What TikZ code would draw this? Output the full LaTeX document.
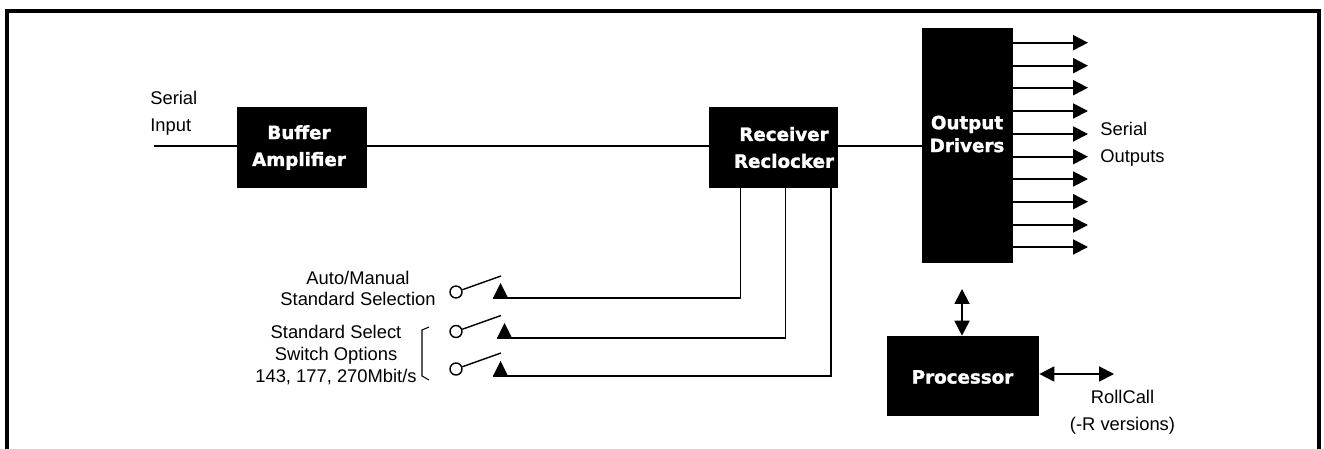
\documentclass[tikz,border=0pt]{standalone}
\usepackage{fontspec}
\setmainfont{Liberation Sans}
\newfontfamily\blockfont{DejaVu Sans}[BoldFont={DejaVu Sans Bold},BoldFeatures={FakeBold=1.6}]
\usetikzlibrary{arrows.meta}

\tikzset{
  block/.style={fill=black, inner sep=0pt},
  blocktext/.style={inner sep=0pt, text=white, align=center,
    font=\blockfont\bfseries\fontsize{10.4}{15.3}\selectfont},
  caption/.style={inner sep=0pt, align=center,
    font=\fontsize{10.45}{15.3}\selectfont},
  tight/.style={font=\fontsize{10.45}{12.4}\selectfont},
  sig/.style={line width=1.1pt},
  arr/.style={sig, -{Triangle[length=8.5pt,width=8.5pt]}},
  biarr/.style={sig, {Triangle[length=8.5pt,width=8.5pt]}-{Triangle[length=8.5pt,width=8.5pt]}},
  contact/.style={circle, draw, line width=0.8pt, minimum size=0.24cm, inner sep=0pt},
}

\begin{document}
\begin{tikzpicture}[x=0.02cm, y=-0.02cm]
  \useasboundingbox (0,0) rectangle (1324,449);
  \draw[line width=2.3pt] (7,449) -- (7,11) -- (1319,11) -- (1319,449);

  \node[block, minimum width=2.6cm, minimum height=1.62cm] (buffer) at (302,147.5) {};
  \node[block, minimum width=2.58cm, minimum height=1.62cm] (reclocker) at (773.5,147.5) {};
  \node[block, minimum width=1.82cm, minimum height=4.7cm] (drivers) at (967.5,145.5) {};
  \node[block, minimum width=3.04cm, minimum height=1.6cm] (processor) at (963,376) {};

  \node[blocktext] (buffertext) at (299,147.5) {Buffer\\Amplifier};
  \node[blocktext] (reclockertext) at (784,147.5) {Receiver\\Reclocker};
  \node[blocktext, font=\blockfont\bfseries\fontsize{10.4}{13}\selectfont] (driverstext) at (967,134) {Output\\Drivers};
  \node[blocktext] (processortext) at (962.5,377) {Processor};

  % serial path
  \coordinate (input) at (154,146);
  \draw[sig] (input) -- (input -| buffer.west);
  \draw[sig] (input -| buffer.east) -- (input -| reclocker.west);
  \draw[sig] (input -| reclocker.east) -- (input -| drivers.west);

  \node[caption, align=left, anchor=west] (inlabel) at (150,113) {Serial\\Input};
  \node[caption, align=left, anchor=west] (outlabel) at (1100,144.5) {Serial\\Outputs};

  \foreach \y in {42.7, 65.7, 87.7, 111, 134, 156.7, 179, 201.7, 225, 247} {
      \coordinate (out) at (1088,\y);
      \draw[arr] (out -| drivers.east) -- (out);
  }

  % processor links
  \coordinate (drvlink) at (962,289);
  \coordinate (rollcall) at (1114,374);
  \draw[biarr] (drvlink) -- (drvlink |- processor.north);
  \draw[biarr] (rollcall -| processor.east) -- (rollcall);
  \node[caption] (rclabel) at (1122.5,412.5) {RollCall\\(-R versions)};

  % switches
  \foreach \n/\y/\t/\up/\tap in {1/292/493/298/740.5, 2/331.5/497/338/785.5, 3/369/493/376/831} {
      \node[contact] (sw\n) at (456,\y) {};
      \coordinate (lever\n) at (501,\y-16);
      \draw[line width=0.8pt] (sw\n) -- (lever\n);
      \coordinate (pin\n) at (\t,\up);
      \coordinate (tap\n) at (\tap,188);
      \fill (pin\n) -- ++(7.5,-15) -- ++(7.5,15) -- cycle;
      \draw[line width=0.8pt] (pin\n) -| (tap\n);
  }

  \node[caption, tight] (autolabel) at (358,288.5) {Auto/Manual\\Standard Selection};
  \node[caption, tight] (stdlabel) at (336,355) {Standard Select\\Switch Options\\143, 177, 270Mbit/s};
  \draw[line width=0.6pt] (429,327) -- (422,330) -- (422,376) -- (429,380);
\end{tikzpicture}
\end{document}
